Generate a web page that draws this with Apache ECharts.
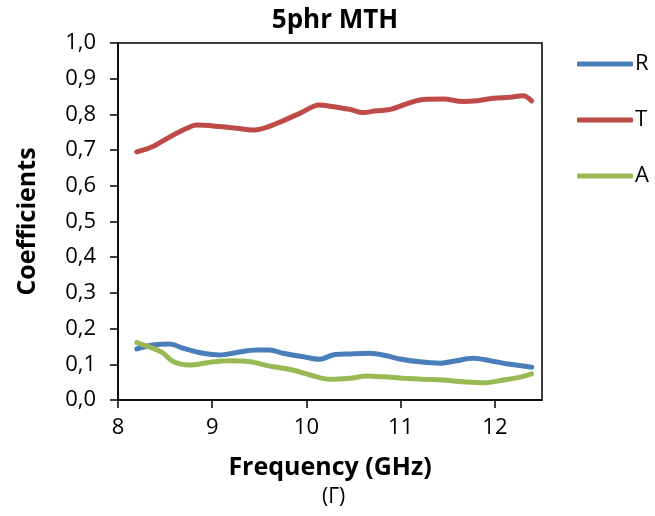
<!DOCTYPE html>
<html>
<head>
<meta charset="utf-8">
<script src="https://cdn.jsdelivr.net/npm/echarts@6/dist/echarts.min.js"></script>
<style>
  html, body { margin: 0; padding: 0; background: #fff; }
  #chart { width: 655px; height: 516px; }
</style>
</head>
<body>
<div id="chart"></div>
<script>
// Reflection (R), transmission (T) and absorption (A) coefficients vs frequency
const freqR = [8.2, 8.37, 8.55, 8.69, 8.9, 9.08, 9.26, 9.47, 9.61, 9.75, 9.97, 10.14, 10.28, 10.46, 10.67, 10.85, 10.99, 11.2, 11.42, 11.59, 11.77, 11.95, 12.16, 12.39];
const valR  = [0.143, 0.154, 0.157, 0.145, 0.131, 0.126, 0.133, 0.140, 0.140, 0.131, 0.121, 0.114, 0.126, 0.129, 0.131, 0.124, 0.115, 0.107, 0.103, 0.110, 0.117, 0.110, 0.100, 0.092];

const freqT = [8.2, 8.37, 8.55, 8.73, 8.83, 9.08, 9.26, 9.43, 9.58, 9.75, 9.93, 10.14, 10.25, 10.46, 10.6, 10.74, 10.89, 11.1, 11.24, 11.45, 11.66, 11.81, 11.98, 12.16, 12.3, 12.39];
const valT  = [0.695, 0.71, 0.737, 0.761, 0.770, 0.766, 0.761, 0.756, 0.764, 0.782, 0.803, 0.826, 0.823, 0.814, 0.805, 0.81, 0.814, 0.833, 0.842, 0.843, 0.836, 0.838, 0.845, 0.848, 0.852, 0.838];

const freqA = [8.2, 8.37, 8.48, 8.59, 8.76, 8.98, 9.19, 9.4, 9.61, 9.82, 10.04, 10.25, 10.46, 10.64, 10.82, 11.03, 11.24, 11.45, 11.66, 11.88, 12.09, 12.27, 12.39];
const valA  = [0.161, 0.145, 0.131, 0.107, 0.098, 0.106, 0.110, 0.107, 0.095, 0.086, 0.070, 0.058, 0.061, 0.067, 0.065, 0.061, 0.058, 0.056, 0.051, 0.048, 0.056, 0.064, 0.073];

const xTicks = [8, 9, 10, 11, 12];

const seriesDefs = [
  { name: 'R', color: '#4a7ebb', x: freqR, y: valR },
  { name: 'T', color: '#be4b48', x: freqT, y: valT },
  { name: 'A', color: '#98b954', x: freqA, y: valA }
];

const FONT = '"Open Sans", "DejaVu Sans", sans-serif';
const chart = echarts.init(document.getElementById('chart'), null, { renderer: 'canvas' });

const fmtComma = v => v.toFixed(1).replace('.', ',');

chart.setOption({
  animation: false,
  backgroundColor: '#fff',
  title: {
    text: '5phr MTH',
    left: 330, top: 3, textAlign: 'center',
    textStyle: { fontFamily: FONT, fontWeight: 'bold', fontSize: 26, color: '#000' }
  },
  legend: {
    orient: 'vertical',
    left: 577, top: 53,
    padding: 0,
    itemGap: 34,
    itemWidth: 56, itemHeight: 5,
    icon: 'roundRect',
    textStyle: { fontFamily: FONT, fontSize: 22, color: '#000', padding: [0, 0, 0, -3] },
    data: seriesDefs.map(s => ({ name: s.name, itemStyle: { color: s.color } }))
  },
  grid: {
    left: 118, top: 43, width: 424, height: 357,
    outerBoundsMode: 'none',
    containLabel: false,
    show: true, borderColor: '#000', borderWidth: 1.5, backgroundColor: 'transparent'
  },
  xAxis: {
    type: 'value',
    min: 8, max: 12.5, interval: 1,
    name: 'Frequency (GHz)',
    nameLocation: 'middle', nameGap: 55,
    nameTextStyle: { fontFamily: FONT, fontWeight: 'bold', fontSize: 25, color: '#000' },
    axisLine: { show: true, lineStyle: { color: '#000', width: 1.5 } },
    axisTick: { show: true, length: 8, lineStyle: { color: '#000', width: 1.5 } },
    axisLabel: {
      fontFamily: FONT, fontSize: 22, color: '#000', margin: 17,
      formatter: v => (xTicks.includes(v) ? String(v) : ''),
      showMaxLabel: false
    },
    splitLine: { show: false }
  },
  yAxis: {
    type: 'value',
    min: 0, max: 1.0, interval: 0.1,
    name: 'Coefficients',
    nameLocation: 'middle', nameGap: 78,
    nameTextStyle: { fontFamily: FONT, fontWeight: 'bold', fontSize: 25, color: '#000' },
    axisLine: { show: true, lineStyle: { color: '#000', width: 1.5 } },
    axisTick: { show: true, length: 8, lineStyle: { color: '#000', width: 1.5 } },
    axisLabel: { fontFamily: FONT, fontSize: 22, color: '#000', margin: 22, formatter: fmtComma },
    splitLine: { show: false }
  },
  graphic: [{
    type: 'text',
    left: 322, top: 487,
    style: { text: '(Γ)', font: '21px "Open Sans", "DejaVu Sans", sans-serif', fill: '#000' }
  }],
  series: seriesDefs.map(s => ({
    name: s.name,
    type: 'line',
    smooth: 0.35,
    showSymbol: false,
    symbol: 'none',
    lineStyle: { color: s.color, width: 5, cap: 'round' },
    itemStyle: { color: s.color },
    data: s.x.map((f, i) => [f, s.y[i]])
  }))
});
</script>
</body>
</html>
